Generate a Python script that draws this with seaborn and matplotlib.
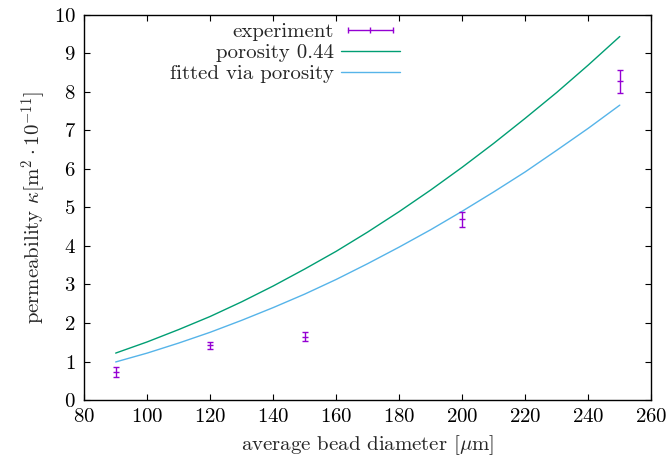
import seaborn as sns
import pandas as pd
import matplotlib.pyplot as plt
from matplotlib.lines import Line2D
from matplotlib.legend_handler import HandlerLine2D

# measured permeability
diameter = [90, 120, 150, 200, 250]
kappa = [0.74, 1.42, 1.65, 4.69, 8.27]
kappa_err = [0.13, 0.1, 0.12, 0.2, 0.3]

# model curves, every 10 um
d_curve = [90, 100, 110, 120, 130, 140, 150, 160, 170, 180, 190, 200, 210, 220, 230, 240, 250]
k_porosity = [1.22, 1.51, 1.83, 2.17, 2.55, 2.96, 3.40, 3.86, 4.36, 4.89, 5.45, 6.04, 6.66, 7.31, 7.98, 8.69, 9.43]
k_fitted = [0.99, 1.22, 1.48, 1.76, 2.07, 2.40, 2.75, 3.13, 3.54, 3.97, 4.42, 4.90, 5.40, 5.92, 6.48, 7.05, 7.65]

curves = pd.DataFrame({'d': d_curve, 'porosity 0.44': k_porosity, 'fitted via porosity': k_fitted})

sns.set_theme(style='ticks')
plt.rcParams['font.family'] = ['cmr10', 'DejaVu Serif']
plt.rcParams['mathtext.fontset'] = 'cm'
plt.rcParams['axes.formatter.use_mathtext'] = True

fs = 15
purple = '#9400d3'
green = '#009e73'
blue = '#56b4e9'

fig = plt.figure(figsize=(6.68, 4.68), dpi=100)
ax = fig.add_axes([0.126, 0.145, 0.849, 0.824])

ax.errorbar(diameter, kappa, yerr=kappa_err, fmt='none', ecolor=purple,
            elinewidth=1.0, capsize=2.2, capthick=1.0, zorder=3)
ax.plot(diameter, kappa, ls='none', marker='_', ms=4.4, mew=1.0, color=purple, zorder=3)
sns.lineplot(data=curves, x='d', y='porosity 0.44', color=green, lw=1.0, ax=ax)
sns.lineplot(data=curves, x='d', y='fitted via porosity', color=blue, lw=1.0, ax=ax)

ax.set_xlim(80, 260)
ax.set_ylim(0, 10)
ax.set_xticks(range(80, 261, 20))
ax.set_yticks(range(0, 11))
ax.tick_params(direction='in', length=4.5, width=0.8, top=True, right=True,
               labelsize=fs, colors='black', pad=6)
for s in ax.spines.values():
    s.set_visible(True)
    s.set_linewidth(1.0)
    s.set_color('black')

ax.set_xlabel(r'average bead diameter [$\mu$m]', fontsize=fs, labelpad=5)
ax.set_ylabel(r'permeability $\kappa[\mathrm{m}^2\cdot10^{-11}]$', fontsize=fs, labelpad=4)

handles = [Line2D([], [], color=purple, lw=1.0, marker='|', ms=5, mew=1.0),
           Line2D([], [], color=green, lw=1.0),
           Line2D([], [], color=blue, lw=1.0)]
labels = ['experiment', 'porosity 0.44', 'fitted via porosity']
ax.legend(handles, labels, loc='upper right', bbox_to_anchor=(410 / 668, 1 - 12 / 468),
          bbox_transform=fig.transFigure, frameon=False, markerfirst=False,
          fontsize=fs, handlelength=2.8, handletextpad=0.36, labelspacing=0.12,
          borderpad=0, handler_map={handles[0]: HandlerLine2D(numpoints=3)})

fig.savefig('out.png', dpi=100)
